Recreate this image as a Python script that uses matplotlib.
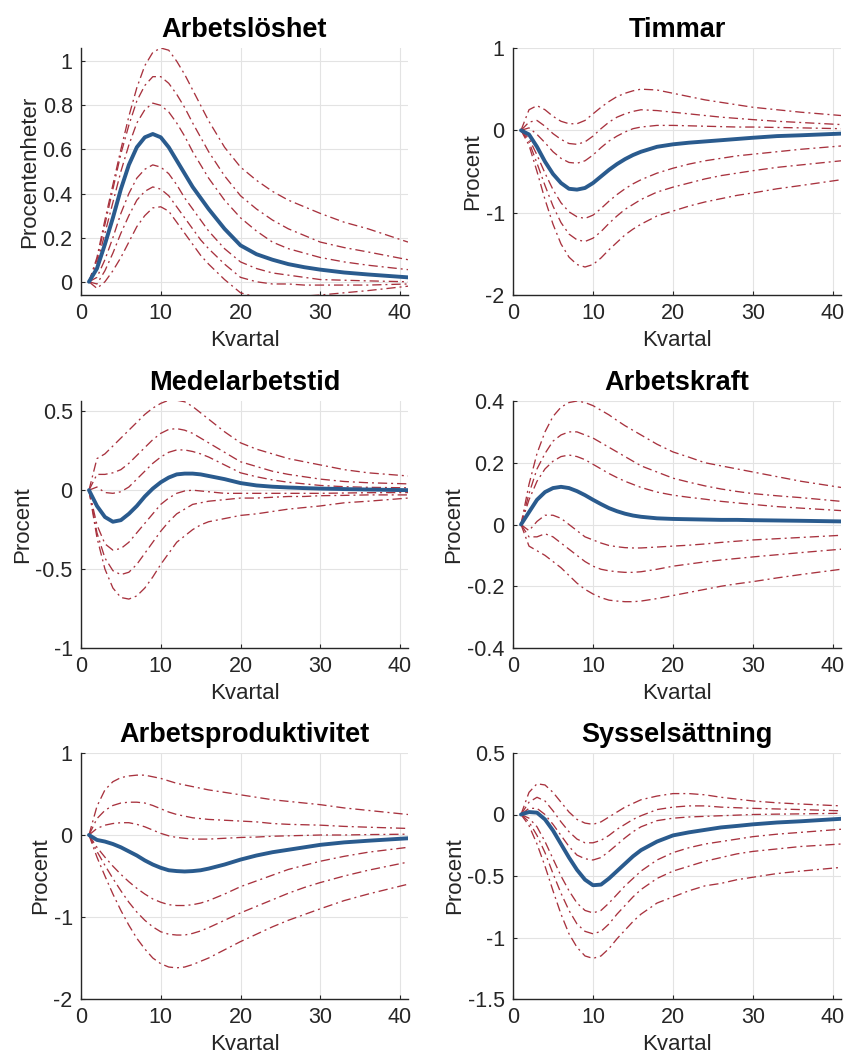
import numpy as np
import matplotlib
matplotlib.use("Agg")
import matplotlib.pyplot as plt

plt.rcParams['font.family'] = ['Liberation Sans', 'DejaVu Sans']

# Quarters at which the impulse responses are tabulated
quarters = [1, 2, 3, 4, 5, 6, 7, 8, 9, 10, 11, 12, 13, 14, 15, 16,
            18, 20, 22, 24, 26, 28, 30, 33, 36, 41]

titles = ["Arbetslöshet", "Timmar", "Medelarbetstid",
          "Arbetskraft", "Arbetsproduktivitet", "Sysselsättning"]
ylabels = ["Procentenheter", "Procent", "Procent", "Procent", "Procent", "Procent"]
ylims = [(-0.06, 1.06), (-2, 1), (-1, 0.565), (-0.4, 0.4), (-2, 1), (-1.5, 0.5)]
yticks = [[0, 0.2, 0.4, 0.6, 0.8, 1], [-2, -1, 0, 1], [-1, -0.5, 0, 0.5],
          [-0.4, -0.2, 0, 0.2, 0.4], [-2, -1, 0, 1], [-1.5, -1, -0.5, 0, 0.5]]

# --- Arbetslöshet ---
unemp_median = [0, 0.06, 0.17, 0.29, 0.42, 0.53, 0.61, 0.655, 0.67, 0.655, 0.61, 0.55, 0.49, 0.43, 0.38, 0.33,
                0.24, 0.165, 0.125, 0.1, 0.08, 0.066, 0.055, 0.042, 0.033, 0.02]
unemp_bands = [
    [0, 0.11, 0.28, 0.44, 0.6, 0.75, 0.88, 0.98, 1.04, 1.06, 1.05, 1.0, 0.94, 0.87, 0.8, 0.73,
     0.61, 0.52, 0.46, 0.41, 0.37, 0.34, 0.31, 0.27, 0.24, 0.18],
    [0, 0.1, 0.26, 0.42, 0.58, 0.71, 0.82, 0.89, 0.93, 0.93, 0.9, 0.85, 0.79, 0.72, 0.655, 0.59,
     0.48, 0.39, 0.33, 0.28, 0.24, 0.21, 0.18, 0.155, 0.135, 0.10],
    [0, 0.08, 0.22, 0.36, 0.5, 0.62, 0.72, 0.78, 0.81, 0.8, 0.77, 0.72, 0.66, 0.59, 0.53, 0.47,
     0.37, 0.29, 0.23, 0.18, 0.15, 0.13, 0.11, 0.09, 0.075, 0.055],
    [0, 0.02, 0.1, 0.2, 0.31, 0.4, 0.47, 0.51, 0.53, 0.52, 0.49, 0.44, 0.38, 0.33, 0.28, 0.23,
     0.15, 0.09, 0.06, 0.04, 0.03, 0.02, 0.01, 0.007, 0.004, 0.0],
    [0, -0.01, 0.05, 0.13, 0.22, 0.3, 0.37, 0.41, 0.43, 0.42, 0.39, 0.34, 0.29, 0.24, 0.19, 0.15,
     0.08, 0.02, 0.0, -0.01, -0.01, -0.015, -0.015, -0.015, -0.015, -0.01],
    [0, -0.03, 0.0, 0.05, 0.11, 0.18, 0.25, 0.3, 0.335, 0.34, 0.32, 0.27, 0.22, 0.17, 0.12, 0.08,
     0.01, -0.05, -0.07, -0.075, -0.07, -0.065, -0.06, -0.05, -0.04, -0.02],
]

# --- Timmar ---
hours_median = [0, -0.05, -0.2, -0.38, -0.53, -0.64, -0.71, -0.72, -0.7, -0.64, -0.56, -0.48, -0.41, -0.35, -0.3, -0.26,
                -0.2, -0.17, -0.15, -0.135, -0.12, -0.105, -0.09, -0.07, -0.06, -0.04]
hours_bands = [
    [0, 0.25, 0.3, 0.25, 0.17, 0.11, 0.08, 0.08, 0.12, 0.2, 0.28, 0.35, 0.41, 0.45, 0.48, 0.5,
     0.49, 0.45, 0.41, 0.37, 0.34, 0.31, 0.28, 0.25, 0.22, 0.18],
    [0, 0.1, 0.12, 0.05, -0.04, -0.11, -0.16, -0.17, -0.14, -0.07, 0.02, 0.1, 0.16, 0.2, 0.23, 0.25,
     0.24, 0.22, 0.2, 0.18, 0.16, 0.145, 0.13, 0.11, 0.095, 0.07],
    [0, 0.03, -0.05, -0.15, -0.26, -0.34, -0.39, -0.4, -0.37, -0.3, -0.21, -0.13, -0.07, -0.02, 0.02, 0.04,
     0.06, 0.06, 0.055, 0.05, 0.045, 0.04, 0.04, 0.035, 0.03, 0.02],
    [0, -0.1, -0.3, -0.52, -0.72, -0.88, -0.99, -1.05, -1.07, -1.03, -0.95, -0.86, -0.78, -0.71, -0.65, -0.6,
     -0.52, -0.46, -0.41, -0.37, -0.34, -0.31, -0.29, -0.26, -0.23, -0.19],
    [0, -0.14, -0.4, -0.67, -0.92, -1.12, -1.26, -1.33, -1.35, -1.31, -1.23, -1.13, -1.04, -0.96, -0.9, -0.84,
     -0.75, -0.69, -0.64, -0.59, -0.55, -0.52, -0.49, -0.45, -0.42, -0.37],
    [0, -0.18, -0.5, -0.84, -1.14, -1.38, -1.54, -1.63, -1.66, -1.63, -1.55, -1.45, -1.36, -1.27, -1.2, -1.14,
     -1.04, -0.98, -0.92, -0.87, -0.83, -0.79, -0.76, -0.71, -0.67, -0.6],
]

# --- Medelarbetstid ---
avgh_median = [0, -0.1, -0.17, -0.2, -0.19, -0.15, -0.1, -0.04, 0.01, 0.05, 0.08, 0.1, 0.105, 0.105, 0.1, 0.09,
               0.07, 0.045, 0.03, 0.022, 0.017, 0.013, 0.01, 0.007, 0.004, 0.0]
avgh_bands = [
    [0, 0.2, 0.23, 0.28, 0.33, 0.38, 0.43, 0.48, 0.52, 0.55, 0.57, 0.57, 0.56, 0.53, 0.49, 0.45,
     0.37, 0.3, 0.26, 0.23, 0.2, 0.18, 0.16, 0.13, 0.11, 0.09],
    [0, 0.1, 0.1, 0.11, 0.13, 0.17, 0.22, 0.27, 0.32, 0.36, 0.385, 0.39, 0.38, 0.36, 0.33, 0.3,
     0.24, 0.18, 0.15, 0.12, 0.1, 0.085, 0.07, 0.055, 0.047, 0.04],
    [0, 0.02, -0.015, -0.02, -0.01, 0.02, 0.07, 0.12, 0.17, 0.21, 0.24, 0.255, 0.255, 0.245, 0.23, 0.21,
     0.16, 0.11, 0.085, 0.065, 0.05, 0.04, 0.03, 0.022, 0.018, 0.015],
    [0, -0.22, -0.34, -0.38, -0.37, -0.33, -0.27, -0.21, -0.15, -0.09, -0.05, -0.02, -0.005, 0.0, -0.005, -0.01,
     -0.02, -0.02, -0.02, -0.02, -0.02, -0.02, -0.02, -0.018, -0.016, -0.015],
    [0, -0.27, -0.43, -0.51, -0.535, -0.52, -0.47, -0.4, -0.33, -0.26, -0.2, -0.15, -0.12, -0.09, -0.08, -0.07,
     -0.06, -0.05, -0.05, -0.045, -0.04, -0.04, -0.035, -0.033, -0.03, -0.03],
    [0, -0.3, -0.5, -0.62, -0.68, -0.69, -0.67, -0.62, -0.55, -0.47, -0.4, -0.33, -0.29, -0.25, -0.22, -0.2,
     -0.18, -0.16, -0.15, -0.135, -0.12, -0.11, -0.1, -0.08, -0.07, -0.05],
]

# --- Arbetskraft ---
labf_median = [0, 0.04, 0.08, 0.105, 0.118, 0.122, 0.118, 0.108, 0.095, 0.08, 0.066, 0.053, 0.043, 0.035, 0.029, 0.025,
               0.02, 0.018, 0.017, 0.016, 0.015, 0.015, 0.014, 0.013, 0.012, 0.01]
labf_bands = [
    [0, 0.13, 0.23, 0.3, 0.35, 0.38, 0.395, 0.4, 0.395, 0.385, 0.37, 0.355, 0.337, 0.32, 0.305, 0.29,
     0.26, 0.235, 0.218, 0.2, 0.19, 0.18, 0.17, 0.155, 0.14, 0.12],
    [0, 0.1, 0.18, 0.23, 0.27, 0.29, 0.3, 0.3, 0.29, 0.28, 0.265, 0.25, 0.235, 0.22, 0.205, 0.19,
     0.17, 0.15, 0.137, 0.125, 0.115, 0.107, 0.1, 0.093, 0.087, 0.075],
    [0, 0.08, 0.14, 0.18, 0.205, 0.22, 0.225, 0.22, 0.21, 0.195, 0.18, 0.165, 0.152, 0.14, 0.13, 0.12,
     0.105, 0.095, 0.088, 0.082, 0.075, 0.07, 0.065, 0.058, 0.053, 0.045],
    [0, -0.02, 0.01, 0.03, 0.03, 0.02, 0.0, -0.02, -0.04, -0.05, -0.06, -0.068, -0.072, -0.075, -0.076, -0.076,
     -0.073, -0.07, -0.067, -0.063, -0.058, -0.054, -0.05, -0.046, -0.042, -0.035],
    [0, -0.04, -0.04, -0.03, -0.04, -0.06, -0.08, -0.1, -0.12, -0.135, -0.145, -0.15, -0.153, -0.155, -0.155, -0.153,
     -0.145, -0.135, -0.128, -0.121, -0.115, -0.11, -0.105, -0.098, -0.091, -0.08],
    [0, -0.07, -0.085, -0.1, -0.12, -0.14, -0.165, -0.19, -0.21, -0.225, -0.237, -0.245, -0.248, -0.25, -0.25, -0.248,
     -0.24, -0.23, -0.22, -0.21, -0.2, -0.192, -0.185, -0.173, -0.162, -0.145],
]

# --- Arbetsproduktivitet ---
prod_median = [0, -0.06, -0.08, -0.11, -0.15, -0.2, -0.25, -0.31, -0.36, -0.4, -0.43, -0.44, -0.445, -0.44, -0.43, -0.41,
               -0.36, -0.3, -0.25, -0.21, -0.18, -0.15, -0.12, -0.09, -0.07, -0.04]
prod_bands = [
    [0, 0.35, 0.55, 0.65, 0.7, 0.72, 0.73, 0.73, 0.71, 0.69, 0.66, 0.63, 0.61, 0.59, 0.57, 0.55,
     0.52, 0.49, 0.46, 0.43, 0.41, 0.39, 0.37, 0.33, 0.3, 0.25],
    [0, 0.2, 0.3, 0.36, 0.39, 0.4, 0.4, 0.39, 0.36, 0.32, 0.28, 0.25, 0.23, 0.21, 0.2, 0.19,
     0.18, 0.17, 0.16, 0.14, 0.13, 0.125, 0.12, 0.105, 0.095, 0.08],
    [0, 0.08, 0.12, 0.14, 0.15, 0.15, 0.13, 0.1, 0.06, 0.02, -0.01, -0.03, -0.04, -0.05, -0.05, -0.05,
     -0.04, -0.03, -0.025, -0.015, -0.01, -0.005, 0.0, 0.0, 0.005, 0.01],
    [0, -0.15, -0.27, -0.38, -0.48, -0.57, -0.65, -0.72, -0.78, -0.82, -0.85, -0.86, -0.86, -0.85, -0.83, -0.8,
     -0.72, -0.63, -0.56, -0.49, -0.42, -0.37, -0.32, -0.26, -0.21, -0.15],
    [0, -0.2, -0.37, -0.53, -0.68, -0.82, -0.94, -1.04, -1.12, -1.18, -1.21, -1.22, -1.22, -1.2, -1.17, -1.13,
     -1.04, -0.95, -0.87, -0.79, -0.71, -0.64, -0.58, -0.5, -0.43, -0.33],
    [0, -0.27, -0.5, -0.72, -0.92, -1.1, -1.26, -1.39, -1.5, -1.57, -1.61, -1.62, -1.61, -1.58, -1.54, -1.5,
     -1.4, -1.3, -1.21, -1.12, -1.04, -0.97, -0.9, -0.8, -0.72, -0.6],
]

# --- Sysselsättning ---
empl_median = [0, 0.02, 0.015, -0.04, -0.13, -0.24, -0.35, -0.45, -0.53, -0.575, -0.57, -0.52, -0.46, -0.4, -0.34, -0.29,
               -0.22, -0.17, -0.145, -0.125, -0.105, -0.093, -0.08, -0.065, -0.055, -0.035]
empl_bands = [
    [0, 0.18, 0.25, 0.24, 0.18, 0.1, 0.02, -0.04, -0.07, -0.08, -0.06, -0.02, 0.02, 0.06, 0.09, 0.12,
     0.15, 0.17, 0.17, 0.16, 0.14, 0.125, 0.11, 0.095, 0.085, 0.07],
    [0, 0.1, 0.14, 0.11, 0.03, -0.06, -0.14, -0.2, -0.23, -0.23, -0.21, -0.17, -0.12, -0.08, -0.04, -0.01,
     0.04, 0.06, 0.07, 0.07, 0.06, 0.055, 0.05, 0.045, 0.04, 0.03],
    [0, 0.05, 0.05, 0.0, -0.08, -0.17, -0.26, -0.33, -0.36, -0.37, -0.35, -0.3, -0.245, -0.19, -0.14, -0.1,
     -0.05, -0.03, -0.02, -0.015, -0.01, -0.005, 0.0, 0.003, 0.005, 0.01],
    [0, -0.03, -0.1, -0.22, -0.36, -0.5, -0.62, -0.72, -0.78, -0.8, -0.78, -0.72, -0.65, -0.58, -0.52, -0.46,
     -0.37, -0.31, -0.27, -0.24, -0.22, -0.2, -0.18, -0.16, -0.145, -0.12],
    [0, -0.06, -0.17, -0.31, -0.48, -0.64, -0.78, -0.89, -0.95, -0.97, -0.95, -0.89, -0.81, -0.74, -0.67, -0.61,
     -0.52, -0.46, -0.42, -0.38, -0.35, -0.32, -0.3, -0.28, -0.26, -0.24],
    [0, -0.09, -0.24, -0.42, -0.62, -0.81, -0.97, -1.08, -1.15, -1.17, -1.15, -1.09, -1.01, -0.94, -0.87, -0.81,
     -0.72, -0.67, -0.62, -0.58, -0.56, -0.53, -0.51, -0.48, -0.46, -0.43],
]

medians = [unemp_median, hours_median, avgh_median, labf_median, prod_median, empl_median]
bands = [unemp_bands, hours_bands, avgh_bands, labf_bands, prod_bands, empl_bands]

W, H = 847, 1059
fig = plt.figure(figsize=(W / 100, H / 100), dpi=100)

# axes boxes in pixels: (left, right) per column, (top, bottom) per row
col_x = [(81, 408), (513, 841)]
row_y = [(48, 295), (401, 648), (753, 999)]

blue = "#2a5b8e"
red = "#a8323e"
grid_c = "#e3e3e3"
txt_c = "#262626"

for i in range(6):
    r, c = divmod(i, 2)
    x0, x1 = col_x[c]
    y0, y1 = row_y[r]
    ax = fig.add_axes([x0 / W, 1 - y1 / H, (x1 - x0) / W, (y1 - y0) / H])
    for band in bands[i]:
        ax.plot(quarters, band, color=red, lw=0.95, linestyle=(0, (7, 3, 1.5, 3)))
    ax.plot(quarters, medians[i], color=blue, lw=2.8,
            solid_capstyle='round', solid_joinstyle='round')
    ax.set_xlim(0, 41)
    ax.set_ylim(*ylims[i])
    ax.set_xticks([0, 10, 20, 30, 40])
    ax.set_yticks(yticks[i])
    ax.set_yticklabels([f"{v:g}" for v in yticks[i]])
    ax.grid(True, color=grid_c, lw=0.8)
    ax.set_axisbelow(True)
    for s in ("top", "right"):
        ax.spines[s].set_visible(False)
    for s in ("left", "bottom"):
        ax.spines[s].set_color("#262626")
        ax.spines[s].set_linewidth(1.0)
    ax.tick_params(direction="in", length=3, labelsize=15.5, colors=txt_c)
    ax.tick_params(axis="x", pad=6)
    ax.tick_params(axis="y", pad=6)
    ax.set_title(titles[i], fontsize=19.5, fontweight="bold", pad=8)
    ax.set_xlabel("Kvartal", fontsize=16, color=txt_c, labelpad=4)
    ax.set_ylabel(ylabels[i], fontsize=16, color=txt_c, labelpad=2)

fig.savefig("out.png", dpi=100, facecolor="white")
